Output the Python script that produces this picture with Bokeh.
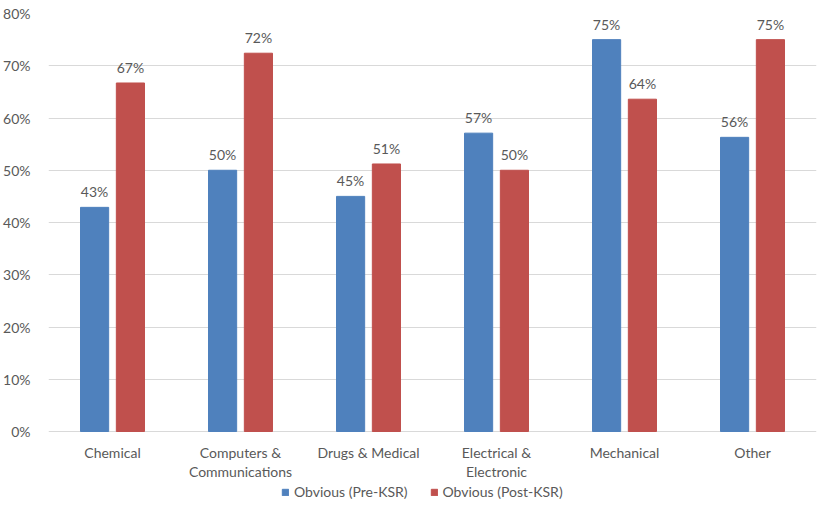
from bokeh.plotting import figure
from bokeh.models import ColumnDataSource, FactorRange, Legend, LegendItem, FixedTicker, Range1d
from bokeh.transform import dodge
from bokeh.core.properties import value
from bokeh.embed import file_html
from bokeh.resources import INLINE

categories = ["Chemical", "Computers &\nCommunications", "Drugs & Medical",
              "Electrical &\nElectronic", "Mechanical", "Other"]
pre_ksr = [42.9, 50.0, 45.0, 57.1, 75.0, 56.3]
post_ksr = [66.7, 72.4, 51.2, 50.0, 63.6, 75.0]
series_names = ["Obvious (Pre-KSR)", "Obvious (Post-KSR)"]
y_ticks = [0, 10, 20, 30, 40, 50, 60, 70, 80]

BLUE = "#4F81BD"
RED = "#C0504D"
GRAY = "#595959"
FONT = "Lato"
FS = "14px"

# plot area: 418 px for 0..80 %, plus a strip below for category names and legend
PLOT_H = 418
STRIP_H = 78
Y_MAX = 80
Y_MIN = -Y_MAX * STRIP_H / PLOT_H

src = ColumnDataSource(dict(
    cat=categories,
    base=[0] * len(categories),
    pre=pre_ksr,
    post=post_ksr,
    pre_lbl=[f"{round(v)}%" for v in pre_ksr],
    post_lbl=[f"{round(v)}%" for v in post_ksr],
))

p = figure(x_range=FactorRange(*categories), y_range=Range1d(Y_MIN, Y_MAX),
           frame_width=768, frame_height=PLOT_H + STRIP_H,
           output_backend="svg", toolbar_location=None,
           min_border_left=48, min_border_right=1, min_border_top=13, min_border_bottom=0)

r1 = p.vbar(x=dodge("cat", -0.14, range=p.x_range), top="pre", bottom=0, width=0.22,
            source=src, color=BLUE)
r2 = p.vbar(x=dodge("cat", 0.14, range=p.x_range), top="post", bottom=0, width=0.22,
            source=src, color=RED)

p.text(x=dodge("cat", -0.14, range=p.x_range), y="pre", text="pre_lbl", source=src,
       text_align="center", text_baseline="bottom", y_offset=-7,
       text_font=value(FONT), text_font_size=FS, text_color=GRAY)
p.text(x=dodge("cat", 0.14, range=p.x_range), y="post", text="post_lbl", source=src,
       text_align="center", text_baseline="bottom", y_offset=-7,
       text_font=value(FONT), text_font_size=FS, text_color=GRAY)

# category names under the baseline
p.text(x="cat", y="base", text="cat", source=src,
       text_align="center", text_baseline="top", y_offset=12,
       text_font=value(FONT), text_font_size=FS, text_color=GRAY,
       text_line_height=1.15)

p.outline_line_color = None
p.xgrid.grid_line_color = None
p.ygrid.grid_line_color = "#D9D9D9"
p.ygrid.grid_line_width = 1
p.xaxis.visible = False

p.yaxis.ticker = FixedTicker(ticks=y_ticks)
p.yaxis.major_label_overrides = {t: f"{t}%" for t in y_ticks}
p.yaxis.axis_line_color = None
p.yaxis.major_tick_line_color = None
p.yaxis.minor_tick_line_color = None
p.yaxis.major_label_text_color = GRAY
p.yaxis.major_label_text_font = FONT
p.yaxis.major_label_text_font_size = FS
p.yaxis.major_label_standoff = 12

legend = Legend(items=[LegendItem(label=series_names[0], renderers=[r1]),
                       LegendItem(label=series_names[1], renderers=[r2])],
                orientation="horizontal", location=(233, 9),
                label_text_font=FONT, label_text_font_size=FS, label_text_color=GRAY,
                glyph_width=8, glyph_height=8, spacing=22, label_standoff=5,
                label_height=14, border_line_color=None, background_fill_alpha=0,
                margin=0, padding=0)
p.add_layout(legend)

open("out.html", "w").write(file_html(p, INLINE))
